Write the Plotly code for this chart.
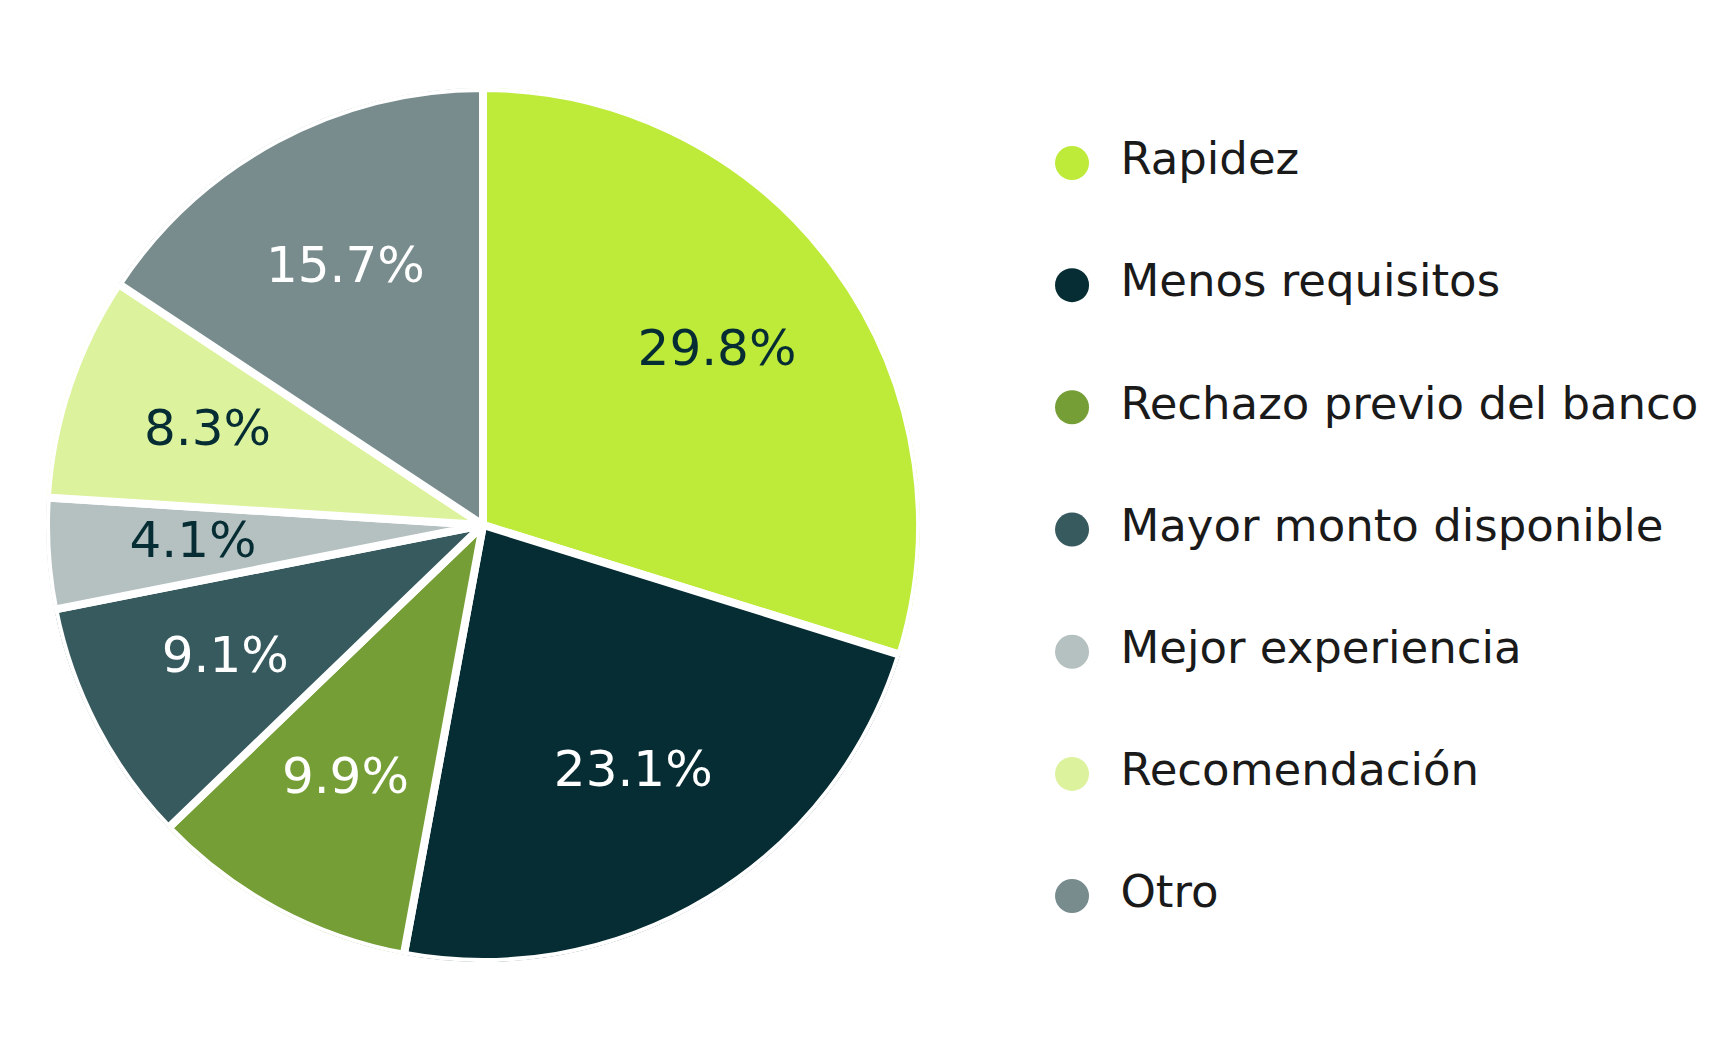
import numpy as np
import plotly.graph_objects as go

# survey answers, clockwise from 12 o'clock
labels = ["Rapidez", "Menos requisitos", "Rechazo previo del banco",
          "Mayor monto disponible", "Mejor experiencia", "Recomendación", "Otro"]
values = [29.8, 23.1, 9.9, 9.1, 4.1, 8.3, 15.7]

colors = ["#BEEA3A", "#062D33", "#759F36", "#365A5E", "#B5C0C1", "#DCF29D", "#788C8E"]
text_colors = ["#062D33", "#FFFFFF", "#FFFFFF", "#FFFFFF", "#062D33", "#062D33", "#FFFFFF"]

W, H = 1729, 1049
font = "DejaVu Sans"

# pie placement (px), the page body adds ~8px offset
cx, cy, R = 475, 532, 437
pie_domain = dict(x=[(cx - R) / W, (cx + R) / W], y=[(cy - R) / H, (cy + R) / H])

vals = np.array(values, dtype=float)
share = vals / vals.sum()
width_deg = share * 360
mid_angle = (np.cumsum(share) - share / 2) * 360
pct_text = [f"{p * 100:.1f}%" for p in share]

fig = go.Figure()

# pie wedges as polar bars so the labels can sit on top of them
fig.add_trace(go.Barpolar(
    r=[1] * len(values),
    theta=mid_angle,
    width=width_deg,
    marker=dict(color=colors, line=dict(color="white", width=8)),
    text=labels,
    hovertemplate="%{text}<extra></extra>",
    showlegend=False,
))

# percentage labels at 2/3 of the radius, middle of each wedge
fig.add_trace(go.Scatterpolar(
    r=[0.665] * len(values),
    theta=mid_angle,
    mode="text",
    text=pct_text,
    textposition="middle center",
    textfont=dict(family=font, size=50, color=text_colors),
    hoverinfo="skip",
    showlegend=False,
))

# legend drawn as scatter so the dots can be big circles
fig.add_trace(go.Scatter(
    x=[0] * len(labels),
    y=labels,
    mode="markers",
    marker=dict(size=34, color=colors),
    hoverinfo="skip",
    showlegend=False,
))
fig.add_trace(go.Scatter(
    x=[0.070] * len(labels),
    y=labels,
    mode="text",
    text=labels,
    textposition="middle right",
    textfont=dict(family=font, size=45, color="#1A1A1A"),
    hoverinfo="skip",
    showlegend=False,
))

fig.update_layout(
    width=W,
    height=H,
    margin=dict(l=0, r=0, t=0, b=0),
    paper_bgcolor="white",
    plot_bgcolor="rgba(0,0,0,0)",
    polar=dict(
        domain=pie_domain,
        bgcolor="rgba(0,0,0,0)",
        bargap=0,
        radialaxis=dict(range=[0, 1], visible=False),
        angularaxis=dict(rotation=90, direction="clockwise", visible=False),
    ),
    xaxis=dict(domain=[0.6, 1.0], range=[-0.0385, 0.9615], visible=False, fixedrange=True),
    yaxis=dict(domain=[0, 1], range=[7.317, -1.268], visible=False, fixedrange=True,
               type="category", categoryorder="array", categoryarray=labels),
)

fig.write_html("out.html")
